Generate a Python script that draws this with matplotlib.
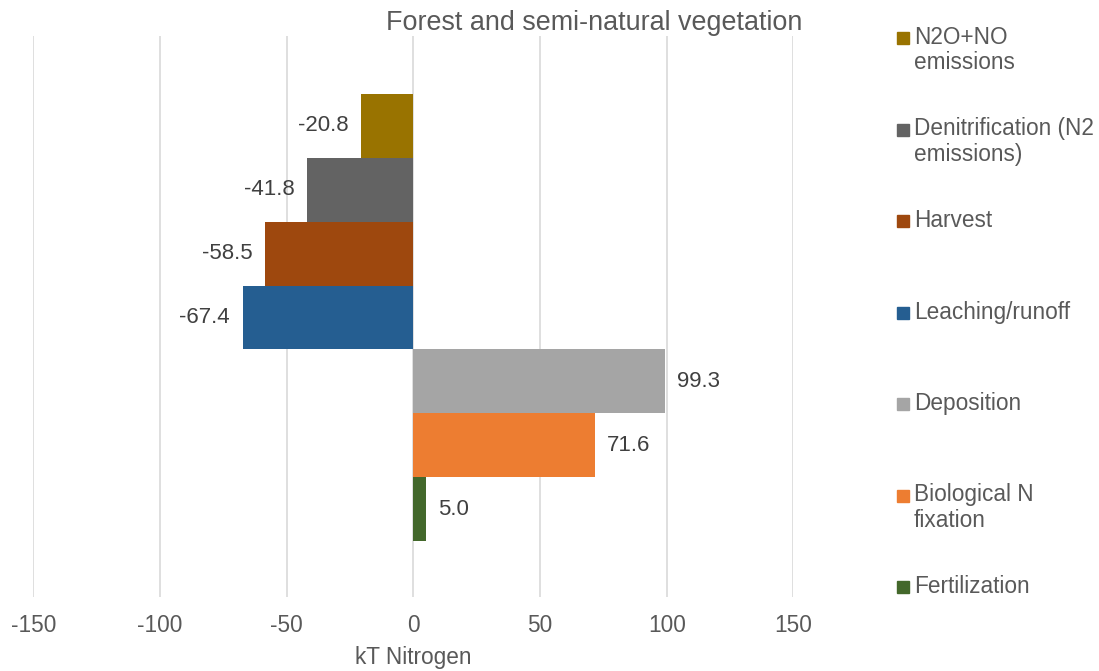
import matplotlib
matplotlib.use("Agg")
from matplotlib import pyplot as plt
from matplotlib.lines import Line2D

plt.rcParams['font.family'] = ['Liberation Sans', 'DejaVu Sans']

# ==============================
# ============ data ============
# ==============================

# bottom to top, as the bars are stacked on the axis
categories = ["Fertilization", "Biological N\nfixation", "Deposition",
              "Leaching/runoff", "Harvest", "Denitrification (N2\nemissions)",
              "N2O+NO\nemissions"]
values     = [5.0, 71.6, 99.3, -67.4, -58.5, -41.8, -20.8]
colors     = ["#43682B", "#ED7D31", "#A5A5A5", "#255E91", "#9E480E",
              "#636363", "#997300"]
xticks     = [-150, -100, -50, 0, 50, 100, 150]

title  = "Forest and semi-natural vegetation"
xlabel = "kT Nitrogen"
txtcol = "#595959"
fs     = 16.3

fig = plt.figure(figsize=(10.99, 6.71), dpi=100)
ax = fig.add_axes([0.0303, 0.1103, 0.6916, 0.836])

ypos = list(range(len(values)))
bars = ax.barh(ypos, values, height=1.0, color=colors)
ax.bar_label(bars, labels=["%.1f" % v for v in values], padding=9,
             fontsize=16, color="#404040")

ax.set_xlim(-150, 150)
ax.set_ylim(-1.377, 6.5 + 0.908)
ax.set_xticks(xticks)
ax.set_xticklabels([str(t) for t in xticks])
ax.set_yticks([])
ax.tick_params(axis='x', length=0, pad=12, labelsize=fs, labelcolor=txtcol)
ax.grid(axis='x', color="#D9D9D9", linewidth=1.2)
ax.set_axisbelow(True)
for s in ax.spines.values():
    s.set_visible(False)
ax.set_xlabel(xlabel, fontsize=fs, color=txtcol, labelpad=7)

fig.text(0.541, 1 - 23/671, title, ha='center', va='center',
         fontsize=19.4, color=txtcol)

# legend, top to bottom in equal slots
W, H = 1099.0, 671.0
for i, (lab, col) in enumerate(zip(categories[::-1], colors[::-1])):
    ypx = 38 + i*91.5
    fig.add_artist(Line2D([903/W], [1 - ypx/H], marker='s', markersize=9,
                          color=col, linestyle='none'))
    fig.text(914/W, 1 - (ypx - 12)/H, lab, ha='left', va='top',
             fontsize=fs, color=txtcol, linespacing=1.12)

fig.savefig("out.png", dpi=100)
